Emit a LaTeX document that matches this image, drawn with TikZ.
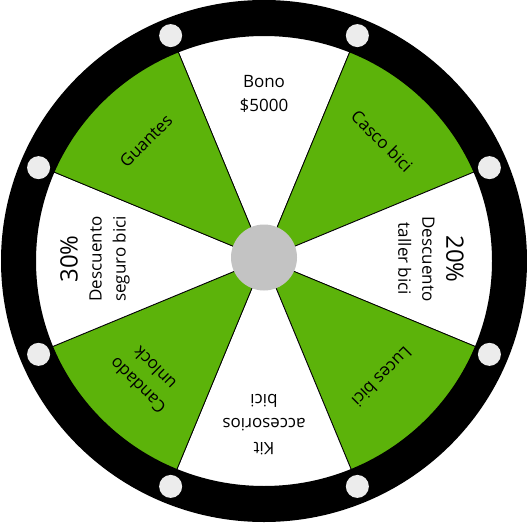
\documentclass[tikz,border=0pt]{standalone}
\usepackage{fontspec}
\setmainfont{Open Sans}
\usetikzlibrary{calc}
\definecolor{wgreen}{RGB}{92,179,10}
\definecolor{pegc}{RGB}{236,236,236}
\definecolor{hubc}{RGB}{195,195,195}
\begin{document}
\begin{tikzpicture}[x=1pt,y=1pt,
  sector/.style={draw=black,line width=0.8pt},
  lbl/.style={font=\fontsize{17}{24}\selectfont, align=center, text=black, inner sep=0pt},
  big/.style={font=\fontsize{24}{24}\selectfont}]
\useasboundingbox (0,0) rectangle (527,523);
\coordinate (C) at (264,264);
\coordinate (R) at (264,262);
\foreach \a/\c in {90/white,45/wgreen,0/white,-45/wgreen,-90/white,-135/wgreen,180/white,135/wgreen}{
  \filldraw[sector, fill=\c] (C) -- ++(\a-22.5:232) arc[start angle=\a-22.5, end angle=\a+22.5, radius=232] -- cycle;
}
\fill[black,even odd rule] (R) ellipse[x radius=263,y radius=261] (R) ellipse[x radius=228,y radius=225];
\foreach \a in {22.5,67.5,112.5,157.5,202.5,247.5,292.5,337.5}{
  \fill[pegc] (R) ++(\a:244) circle[radius=11.5];
}
\fill[hubc] (264,265.5) circle[radius=33];
\node[lbl] (bono) at ($(C)+(90:165)$) {Bono\\\$5000};
\node[lbl, rotate=-45] (casco) at ($(C)+(45:167)$) {Casco bici};
\node[lbl, rotate=-90] (taller) at ($(C)+(0:167)$) {{\fontsize{24}{24}\selectfont 20\%}\\Descuento\\taller bici};
\node[lbl, rotate=-135] (luces) at ($(C)+(-45:167)$) {Luces bici};
\node[lbl, rotate=180] (kit) at ($(C)+(-90:166)$) {Kit\\accesorios\\bici};
\node[lbl, rotate=135] (candado) at ($(C)+(-135:167)$) {Candado\\unlock};
\node[lbl, rotate=90] (seguro) at ($(C)+(180:169)$) {{\fontsize{24}{24}\selectfont 30\%}\\Descuento\\seguro bici};
\node[lbl, rotate=45] (guantes) at ($(C)+(135:167)$) {Guantes};
\end{tikzpicture}
\end{document}
